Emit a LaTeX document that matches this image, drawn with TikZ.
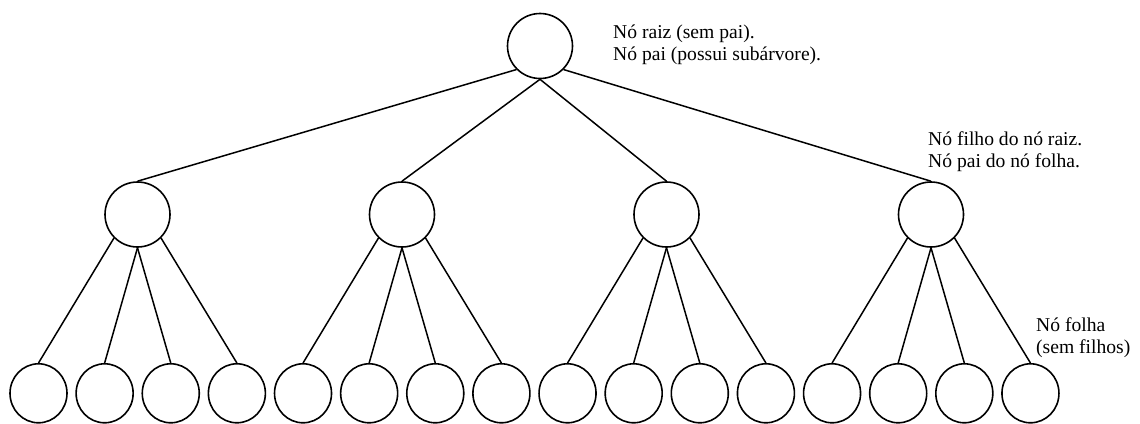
\documentclass[tikz,border=0pt]{standalone}
\usepackage{fontspec}
\setmainfont{Liberation Serif}
\usetikzlibrary{shapes.geometric}
\begin{document}
\begin{tikzpicture}[x=1pt,y=-1pt,
  rootnode/.style={circle,draw,line width=1.6pt,minimum size=65pt,inner sep=0pt},
  leafnode/.style={ellipse,draw,line width=1.6pt,minimum width=57pt,minimum height=59pt,inner sep=0pt},
  edge/.style={line width=1.5pt},
  lbl/.style={anchor=base west,inner sep=0pt,font=\fontsize{19.6pt}{22pt}\selectfont}]
\useasboundingbox (0,0) rectangle (1140,423);
\node[rootnode] (r) at (540,46) {};
\foreach \i/\x in {1/137.5,2/402,3/666.5,4/931}{
  \node[rootnode] (m\i) at (\x,214.5) {};
}
\foreach \j in {1,...,16}{
  \pgfmathsetmacro\xx{38.5+66.13*(\j-1)}
  \node[leafnode] (l\j) at (\xx,393.3) {};
}
\draw[edge] (r.south west) -- (m1.north);
\draw[edge] (r.south) -- (m2.north);
\draw[edge] (r.south) -- (m3.north);
\draw[edge] (r.south east) -- (m4.north);
\foreach \i in {1,...,4}{
  \pgfmathtruncatemacro\a{4*(\i-1)+1}
  \pgfmathtruncatemacro\b{4*(\i-1)+2}
  \pgfmathtruncatemacro\c{4*(\i-1)+3}
  \pgfmathtruncatemacro\d{4*(\i-1)+4}
  \draw[edge] (m\i.south west) -- (l\a.north);
  \draw[edge] (m\i.south) -- (l\b.north);
  \draw[edge] (m\i.south) -- (l\c.north);
  \draw[edge] (m\i.south east) -- (l\d.north);
}
\node[lbl] (t1) at (613,38) {Nó raiz (sem pai).};
\node[lbl] (t2) at (613,60) {Nó pai (possui subárvore).};
\node[lbl] (t3) at (928,145) {Nó filho do nó raiz.};
\node[lbl] (t4) at (928,167) {Nó pai do nó folha.};
\node[lbl] (t5) at (1036,331) {Nó folha};
\node[lbl] (t6) at (1036,353) {(sem filhos)};
\end{tikzpicture}
\end{document}
